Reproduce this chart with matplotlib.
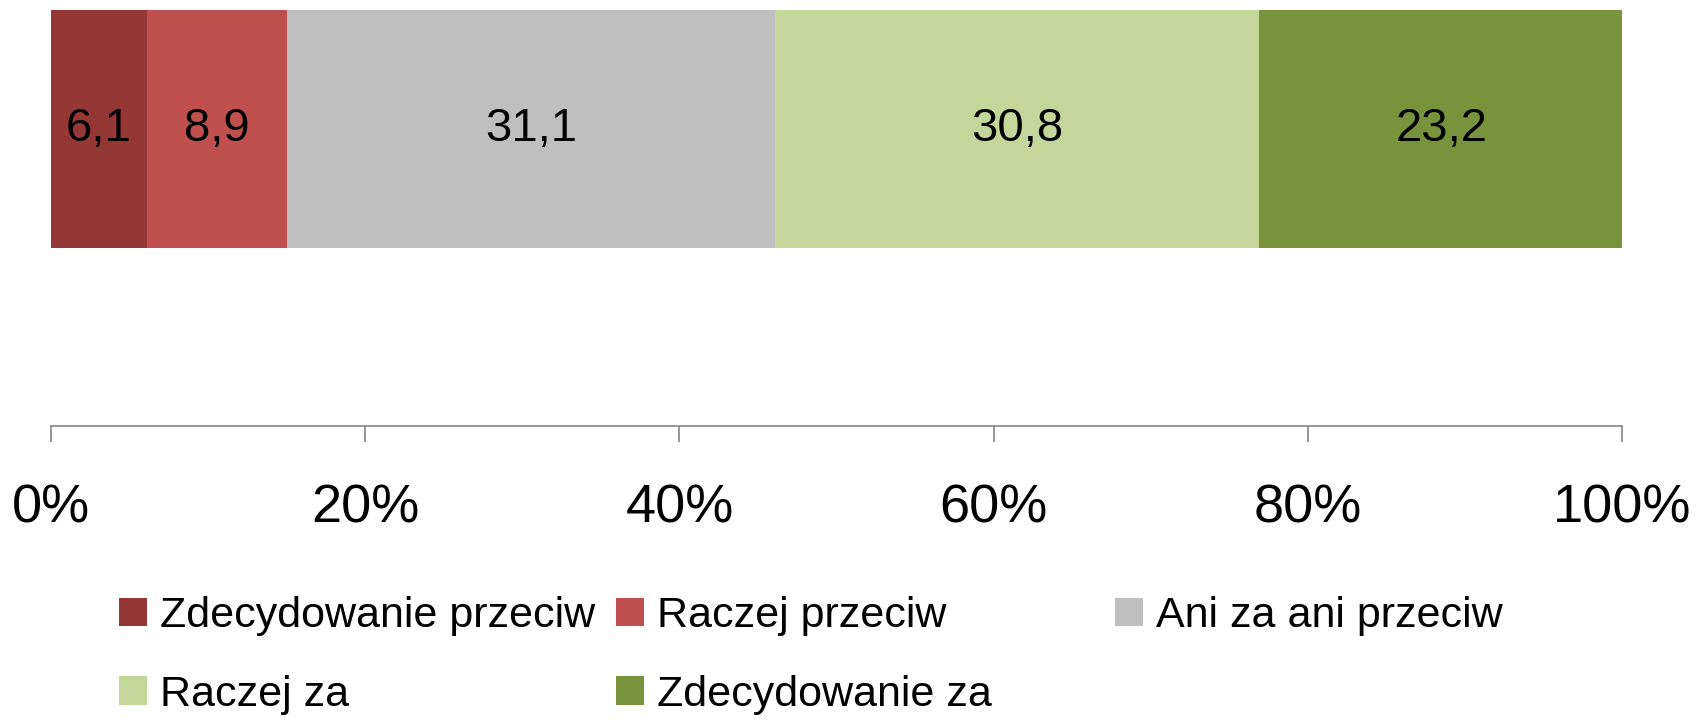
import matplotlib
matplotlib.use("Agg")
import matplotlib.pyplot as plt
from matplotlib.ticker import FuncFormatter

# dane
categories = ["Zdecydowanie przeciw", "Raczej przeciw", "Ani za ani przeciw",
              "Raczej za", "Zdecydowanie za"]
values = [6.1, 8.9, 31.1, 30.8, 23.2]
colors = ["#953735", "#C0504D", "#BFBFBF", "#C4D79B", "#77933C"]
xticks = [0, 20, 40, 60, 80, 100]

plt.rcParams["font.family"] = ["Liberation Sans", "DejaVu Sans"]

W, H = 1697, 721
fig = plt.figure(figsize=(W / 100, H / 100), dpi=100)
ax = fig.add_axes([51 / W, 1 - 426 / H, (1622 - 51) / W, (426 - 10) / H])

left = 0
handles = []
for cat, v, c in zip(categories, values, colors):
    b = ax.barh(0.714, v, left=left, height=0.572, color=c, label=cat)
    handles.append(b)
    ax.text(left + v / 2, 0.714, f"{v:.1f}".replace(".", ","), ha="center",
            va="center", fontsize=34)
    left += v

ax.set_xlim(0, 100)
ax.set_ylim(0, 1)
ax.set_xticks(xticks)
ax.xaxis.set_major_formatter(FuncFormatter(lambda x, p: f"{x:.0f}%"))
ax.tick_params(axis="x", length=11.5, width=1.2, color="#868686",
               labelsize=39, pad=30)
ax.set_yticks([])
for s in ["top", "left", "right"]:
    ax.spines[s].set_visible(False)
ax.spines["bottom"].set_color("#868686")
ax.spines["bottom"].set_linewidth(1.2)

# legenda w stylu Excela: trzy kolumny ustawione osobno
cols = [([handles[0], handles[3]], 119), ([handles[1], handles[4]], 616),
        ([handles[2]], 1115)]
for hs, x0 in cols:
    leg = fig.legend(handles=hs, loc="upper left",
                     bbox_to_anchor=(x0 / W, 1 - 596 / H), frameon=False,
                     fontsize=31, handlelength=0.65, handleheight=0.65,
                     handletextpad=0.3, labelspacing=0.9, borderpad=0,
                     borderaxespad=0)

fig.savefig("out.png", dpi=100)
